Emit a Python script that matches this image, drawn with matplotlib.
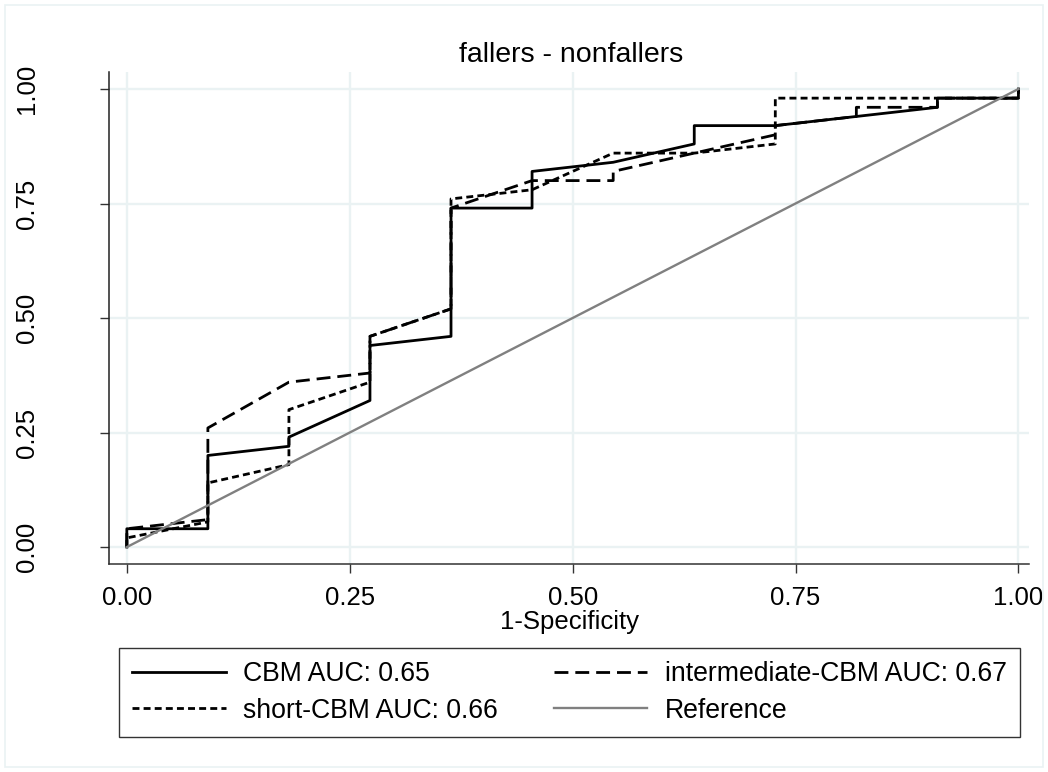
import matplotlib
matplotlib.use('Agg')
import matplotlib.pyplot as plt
from matplotlib.patches import Rectangle

plt.rcParams['font.family'] = ['Liberation Sans', 'DejaVu Sans']
plt.rcParams['font.size'] = 18.5
plt.rcParams['lines.scale_dashes'] = False

# ROC points (1-specificity, sensitivity)
cbm_fpr = [0, 0, 0.0909, 0.0909, 0.1818, 0.1818, 0.2727, 0.2727, 0.3636, 0.3636,
           0.4545, 0.4545, 0.5455, 0.6364, 0.6364, 0.7273, 0.9091, 0.9091, 1, 1]
cbm_tpr = [0, 0.04, 0.04, 0.20, 0.22, 0.24, 0.32, 0.44, 0.46, 0.74,
           0.74, 0.82, 0.84, 0.88, 0.92, 0.92, 0.96, 0.98, 0.98, 1.0]

inter_fpr = [0, 0, 0.0909, 0.0909, 0.1818, 0.2727, 0.2727, 0.3636, 0.3636, 0.4545,
             0.5455, 0.5455, 0.7273, 0.7273, 0.8182, 0.8182, 0.9091, 0.9091, 1, 1]
inter_tpr = [0, 0.04, 0.06, 0.26, 0.36, 0.38, 0.46, 0.52, 0.74, 0.80,
             0.80, 0.82, 0.90, 0.92, 0.94, 0.96, 0.96, 0.98, 0.98, 1.0]

short_fpr = [0, 0, 0.0909, 0.0909, 0.1818, 0.1818, 0.2727, 0.2727, 0.3636, 0.3636,
             0.4545, 0.5455, 0.6364, 0.7273, 0.7273, 1, 1]
short_tpr = [0, 0.02, 0.055, 0.14, 0.18, 0.30, 0.36, 0.46, 0.52, 0.76,
             0.78, 0.86, 0.86, 0.88, 0.98, 0.98, 1.0]

ticks = [0, 0.25, 0.5, 0.75, 1.0]
tick_labels = ['0.00', '0.25', '0.50', '0.75', '1.00']

fig = plt.figure(figsize=(10.48, 7.72), dpi=100)
fig.patches.append(Rectangle((0.005, 0.007), 0.99, 0.986, transform=fig.transFigure,
                             fill=False, edgecolor='#eaf2f3', lw=1.2))
ax = fig.add_axes([0.104, 0.2694, 0.878, 0.6373])

grid_c = '#eaf2f3'
for t in ticks:
    ax.axhline(t, color=grid_c, lw=1.7, zorder=0)
    ax.axvline(t, color=grid_c, lw=1.7, zorder=0)

l1, = ax.plot(cbm_fpr, cbm_tpr, color='black', lw=2.0, label='CBM AUC: 0.65')
l3, = ax.plot(inter_fpr, inter_tpr, color='black', lw=2.0, linestyle=(0, (10, 5)),
              label='intermediate-CBM AUC: 0.67')
l2, = ax.plot(short_fpr, short_tpr, color='black', lw=2.0, linestyle=(0, (5, 3)),
              label='short-CBM AUC: 0.66')
l4, = ax.plot([0, 1], [0, 1], color='#808080', lw=1.7, label='Reference')

ax.set_xlim(-0.02, 1.012)
ax.set_ylim(-0.037, 1.037)
ax.set_xticks(ticks)
ax.set_xticklabels(tick_labels)
ax.set_yticks(ticks)
ax.set_yticklabels(tick_labels, rotation=90, va='center')
for s in ['top', 'right']:
    ax.spines[s].set_visible(False)
ax.spines['left'].set_color('#222222')
ax.spines['bottom'].set_color('#333333')
ax.spines['left'].set_linewidth(1.1)
ax.spines['bottom'].set_linewidth(1.1)
ax.tick_params(axis='both', direction='out', length=6.5, width=1, color='#333333')
ax.tick_params(axis='x', pad=9)
ax.tick_params(axis='y', pad=44)

fig.text(0.545, 1 - 62 / 772, 'fallers - nonfallers', ha='center', va='baseline', fontsize=20.5)
fig.text(0.543, 1 - 622 / 772, '1-Specificity', ha='center', va='center')

leg = fig.legend(handles=[l1, l2, l3, l4], ncol=2, loc='lower left',
                 bbox_to_anchor=(119 / 1048, 1 - 737 / 772, 901 / 1048, 87 / 772),
                 mode='expand', borderaxespad=0, frameon=True, fancybox=False,
                 edgecolor='black', handlelength=3.5, handletextpad=0.65,
                 labelspacing=0.4, borderpad=0.5, columnspacing=1.0, fontsize=19.2)
leg.get_frame().set_linewidth(1.0)

fig.savefig('out.png', dpi=100, facecolor='white')
